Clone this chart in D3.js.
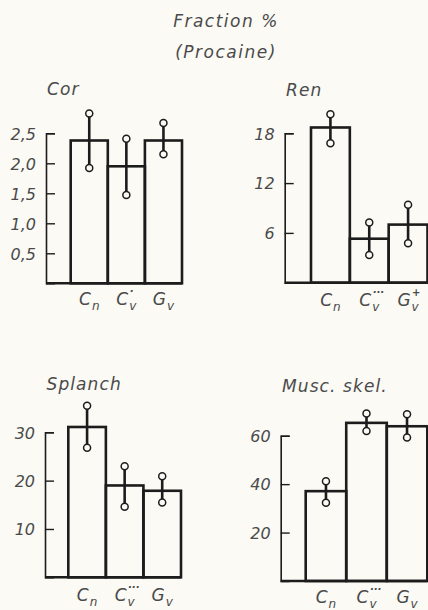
<!DOCTYPE html>
<html>
<head>
<meta charset="utf-8">
<script src="https://cdn.jsdelivr.net/npm/d3@7/dist/d3.min.js"></script>
<style>
  html, body { margin: 0; padding: 0; background: #fbfaf5; }
  svg { display: block; }
  text { font-family: "DejaVu Sans", sans-serif; font-style: italic; fill: #4a4a4a; }
</style>
</head>
<body>
<svg id="chart" width="428" height="610"></svg>
<script>
// Category labels shared by all four panels: base letter and subscript
const catBase = ["C", "C", "G"];
const catSub = ["n", "v", "v"];

// Cor
const corSup = ["", "·", ""];
const corValues = [2.38, 1.95, 2.38];
const corLow = [1.92, 1.47, 2.15];
const corHigh = [2.83, 2.41, 2.67];
const corTicks = [0.5, 1.0, 1.5, 2.0, 2.5];

// Ren
const renSup = ["", "···", "+"];
const renValues = [18.7, 5.3, 7.0];
const renLow = [16.8, 3.35, 4.75];
const renHigh = [20.3, 7.25, 9.4];
const renTicks = [6, 12, 18];

// Splanch
const splSup = ["", "···", ""];
const splValues = [31.1, 19.0, 17.9];
const splLow = [26.8, 14.6, 15.5];
const splHigh = [35.5, 23.0, 20.9];
const splTicks = [10, 20, 30];

// Musc. skel.
const muscSup = ["", "···", ""];
const muscValues = [37.1, 65.3, 63.9];
const muscLow = [32.3, 61.9, 59.3];
const muscHigh = [41.2, 69.2, 68.9];
const muscTicks = [20, 40, 60];

const svg = d3.select("#chart");
const INK = "#1c1c1c";

// Figure heading
svg.append("text").attr("x", 226).attr("y", 27).attr("text-anchor", "middle")
  .attr("font-size", 17).attr("letter-spacing", 1.5).text("Fraction %");
svg.append("text").attr("x", 226).attr("y", 58).attr("text-anchor", "middle")
  .attr("font-size", 17).attr("letter-spacing", 1.5).text("(Procaine)");

const panels = [
  { title: "Cor", titleX: 47, titleY: 95, axisX: 46, y0: 283.3, yTop: 133.3, maxTick: 2.5,
    barL: 70.7, barR: 182, labelY: 305, sup: corSup, values: corValues, low: corLow, high: corHigh,
    ticks: corTicks, fmt: v => d3.format(".1f")(v).replace(".", ",") },
  { title: "Ren", titleX: 286, titleY: 96, axisX: 284.7, y0: 282.7, yTop: 133.3, maxTick: 18,
    barL: 311, barR: 427.5, labelY: 306, sup: renSup, values: renValues, low: renLow, high: renHigh,
    ticks: renTicks, fmt: d3.format("d") },
  { title: "Splanch", titleX: 46.5, titleY: 390, axisX: 45, y0: 577.3, yTop: 432.3, maxTick: 30,
    barL: 68.3, barR: 181, labelY: 601, sup: splSup, values: splValues, low: splLow, high: splHigh,
    ticks: splTicks, fmt: d3.format("d") },
  { title: "Musc. skel.", titleX: 282, titleY: 392, axisX: 280.7, y0: 581, yTop: 435.7, maxTick: 60,
    barL: 305.7, barR: 427.3, labelY: 603, sup: muscSup, values: muscValues, low: muscLow, high: muscHigh,
    ticks: muscTicks, fmt: d3.format("d") }
];

panels.forEach(p => {
  const g = svg.append("g");
  const y = d3.scaleLinear().domain([0, p.maxTick]).range([p.y0, p.yTop]);
  const x = d3.scaleBand().domain(d3.range(p.values.length)).range([p.barL, p.barR]).padding(0);

  // panel title
  g.append("text").attr("x", p.titleX).attr("y", p.titleY)
    .attr("font-size", 17).attr("letter-spacing", 1.1).text(p.title);

  // y axis: ticks point inward, labels outside
  const axis = d3.axisLeft(y).tickValues(p.ticks).tickFormat(p.fmt)
    .tickSizeInner(-9).tickSizeOuter(-9).tickPadding(10);
  const ag = g.append("g").attr("transform", `translate(${p.axisX},0)`).call(axis);
  ag.select(".domain").attr("stroke", INK).attr("stroke-width", 1.6);
  ag.selectAll(".tick line").attr("stroke", INK).attr("stroke-width", 1.4);
  ag.selectAll(".tick text").attr("font-family", "Liberation Sans, sans-serif")
    .attr("font-style", "italic").attr("font-size", 16).attr("fill", "#4a4a4a").attr("dy", "0.36em");

  // baseline
  g.append("line").attr("x1", p.axisX).attr("x2", p.barR)
    .attr("y1", y(0)).attr("y2", y(0)).attr("stroke", INK).attr("stroke-width", 2.4);

  // bars
  g.selectAll("rect.bar").data(p.values).join("rect").attr("class", "bar")
    .attr("x", (d, i) => x(i)).attr("width", x.bandwidth())
    .attr("y", d => y(d)).attr("height", d => y(0) - y(d))
    .attr("fill", "none").attr("stroke", INK).attr("stroke-width", 2.6);

  // error bars with open circle ends
  const cx = i => x(i) + x.bandwidth() / 2;
  g.selectAll("line.err").data(p.values).join("line").attr("class", "err")
    .attr("x1", (d, i) => cx(i)).attr("x2", (d, i) => cx(i))
    .attr("y1", (d, i) => y(p.low[i])).attr("y2", (d, i) => y(p.high[i]))
    .attr("stroke", INK).attr("stroke-width", 2.6);
  const ends = [];
  p.values.forEach((d, i) => { ends.push({ i, v: p.low[i] }); ends.push({ i, v: p.high[i] }); });
  g.selectAll("circle.end").data(ends).join("circle").attr("class", "end")
    .attr("cx", d => cx(d.i)).attr("cy", d => y(d.v)).attr("r", 3.5)
    .attr("fill", "#fbfaf5").attr("stroke", INK).attr("stroke-width", 1.5);

  // category labels: letter with subscript and stacked superscript, one text element each
  p.values.forEach((d, i) => {
    const t = g.append("text").attr("y", p.labelY);
    const main = t.append("tspan").attr("font-size", 17).text(catBase[i]);
    const mw = main.node().getComputedTextLength();
    const sub = t.append("tspan").attr("font-size", 12).attr("dx", 1).attr("dy", 5).text(catSub[i]);
    const sw = sub.node().getComputedTextLength();
    const total = mw + 1 + sw;
    const x0 = cx(i) - total / 2;
    main.attr("x", x0);
    if (p.sup[i]) {
      t.append("tspan").attr("x", x0 + mw + 1.5).attr("y", p.labelY - 10)
        .attr("font-size", 10).attr("font-weight", "bold")
        .text(p.sup[i]);
    }
  });
});
</script>
</body>
</html>
